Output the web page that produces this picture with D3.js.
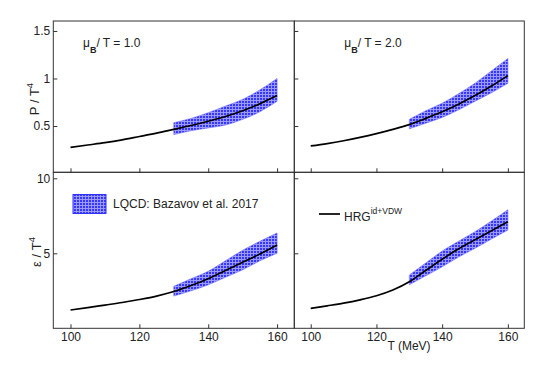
<!DOCTYPE html>
<html lang="en">
<head>
<meta charset="UTF-8">
<title>HRG vs LQCD</title>
<script src="https://d3js.org/d3.v7.min.js"></script>
<style>
  body { margin: 0; background: #fff; }
  svg text { font-family: "Liberation Sans", Arial, sans-serif; fill: #222; }
</style>
</head>
<body>
<div id="chart"></div>
<script>
// temperature grid of the HRG curves (MeV)
var temps = [100, 105, 110, 115, 120, 125, 130, 135, 140, 145, 150, 155, 160];
// HRG id+VDW, P/T^4
var pMu1 = [0.275, 0.30, 0.325, 0.355, 0.39, 0.425, 0.465, 0.505, 0.55, 0.60, 0.66, 0.735, 0.82];
var pMu2 = [0.29, 0.315, 0.345, 0.38, 0.42, 0.465, 0.515, 0.58, 0.65, 0.73, 0.82, 0.92, 1.03];
// HRG id+VDW, eps/T^4
var eMu1 = [1.22, 1.38, 1.55, 1.72, 1.92, 2.15, 2.45, 2.85, 3.3, 3.85, 4.4, 4.95, 5.55];
var eMu2 = [1.33, 1.5, 1.68, 1.9, 2.17, 2.55, 3.1, 3.85, 4.6, 5.3, 5.9, 6.5, 7.1];

// LQCD band (Bazavov et al. 2017)
var lqcdT = [130, 135, 140, 145, 150, 155, 160];
var pMu1Lo = [0.41, 0.45, 0.48, 0.51, 0.57, 0.65, 0.76];
var pMu1Hi = [0.535, 0.58, 0.64, 0.71, 0.78, 0.88, 1.0];
var pMu2Lo = [0.47, 0.53, 0.59, 0.67, 0.76, 0.85, 0.95];
var pMu2Hi = [0.57, 0.66, 0.74, 0.84, 0.95, 1.08, 1.21];
var eMu1Lo = [2.15, 2.5, 2.9, 3.4, 3.9, 4.5, 5.0];
var eMu1Hi = [2.8, 3.3, 3.8, 4.5, 5.2, 5.8, 6.35];
var eMu2Lo = [2.9, 3.5, 4.1, 4.75, 5.33, 5.95, 6.55];
var eMu2Hi = [3.55, 4.35, 5.15, 5.8, 6.44, 7.15, 7.9];

var xTicks = [100, 120, 140, 160];
var pTicks = [0.5, 1, 1.5];
var eTicks = [5, 10];
var muLabels = ["1.0", "2.0"];

var svg = d3.select("#chart").append("svg")
    .attr("width", 536)
    .attr("height", 369);

// hatch pattern for the lattice band
var pat = svg.append("defs").append("pattern")
    .attr("id", "hatch")
    .attr("patternUnits", "userSpaceOnUse")
    .attr("width", 3).attr("height", 3);
pat.append("rect").attr("width", 3).attr("height", 3).attr("fill", "#3636ff");
pat.append("rect").attr("x", 1).attr("width", 1).attr("height", 3).attr("fill", "#9b9bff");
pat.append("rect").attr("y", 1).attr("width", 3).attr("height", 1).attr("fill", "#9b9bff");

var cols = [{x0: 53.3, x1: 294.3}, {x0: 294.3, x1: 524.3}];
var rows = [
    {y0: 21, y1: 172.3, dom: [0.013, 1.605], ticks: pTicks,
     curves: [pMu1, pMu2], lo: [pMu1Lo, pMu2Lo], hi: [pMu1Hi, pMu2Hi]},
    {y0: 172.3, y1: 328.3, dom: [0, 10.4], ticks: eTicks,
     curves: [eMu1, eMu2], lo: [eMu1Lo, eMu2Lo], hi: [eMu1Hi, eMu2Hi]}
];

rows.forEach(function(row, r) {
    cols.forEach(function(col, c) {
        var x = d3.scaleLinear().domain([95, 165]).range([col.x0, col.x1]);
        var y = d3.scaleLinear().domain(row.dom).range([row.y1, row.y0]);
        var g = svg.append("g");

        // band
        var area = d3.area()
            .x(function(d, i) { return x(lqcdT[i]); })
            .y0(function(d, i) { return y(row.lo[c][i]); })
            .y1(function(d, i) { return y(row.hi[c][i]); })
            .curve(d3.curveMonotoneX);
        g.append("path")
            .datum(lqcdT)
            .attr("d", area)
            .attr("fill", "url(#hatch)")
            .attr("stroke", "#6a6aff")
            .attr("stroke-width", 0.6);

        // HRG curve
        var line = d3.line()
            .x(function(d, i) { return x(temps[i]); })
            .y(function(d) { return y(d); })
            .curve(d3.curveMonotoneX);
        g.append("path")
            .datum(row.curves[c])
            .attr("d", line)
            .attr("fill", "none")
            .attr("stroke", "#000")
            .attr("stroke-width", 1.7);

        // axes (ticks inside)
        var yAxis = d3.axisLeft(y).tickValues(row.ticks).tickSize(-4).tickPadding(3)
            .tickFormat(c === 0 ? d3.format("") : function() { return ""; });
        var xAxis = d3.axisBottom(x).tickValues(xTicks).tickSize(-4).tickPadding(4.4)
            .tickFormat(r === 1 ? d3.format("") : function() { return ""; });

        var ya = g.append("g").attr("transform", "translate(" + col.x0 + ",0)").call(yAxis);
        var xa = g.append("g").attr("transform", "translate(0," + row.y1 + ")").call(xAxis);
        [ya, xa].forEach(function(a) {
            a.select(".domain").remove();
            a.selectAll("line").attr("stroke", "#333");
            a.selectAll("text").attr("font-size", 12).attr("fill", "#222")
                .style("font-family", "'Liberation Sans', Arial, sans-serif");
        });

        // frame
        g.append("rect")
            .attr("x", col.x0).attr("y", row.y0)
            .attr("width", col.x1 - col.x0).attr("height", row.y1 - row.y0)
            .attr("fill", "none")
            .attr("stroke", "#333")
            .attr("stroke-width", 1);
    });
});

// mu_B/T labels
[83, 344.3].forEach(function(tx, i) {
    var t = svg.append("text").attr("x", tx).attr("y", 47).attr("font-size", 12);
    t.append("tspan").text("\u03bc");
    t.append("tspan").attr("dy", 6).attr("font-size", 9).attr("font-weight", "bold").text("B");
    t.append("tspan").attr("dy", -6).text("/ T = " + muLabels[i]);
});

// y axis titles
var pt = svg.append("text").attr("transform", "translate(39,99) rotate(-90)")
    .attr("text-anchor", "middle").attr("font-size", 13);
pt.append("tspan").text("P / T");
pt.append("tspan").attr("dy", -6).attr("font-size", 9.5).text("4");

var et = svg.append("text").attr("transform", "translate(41,252) rotate(-90)")
    .attr("text-anchor", "middle").attr("font-size", 13);
et.append("tspan").text("\u03b5 / T");
et.append("tspan").attr("dy", -6).attr("font-size", 9.5).text("4");

// x axis title
svg.append("text").attr("x", 409).attr("y", 350).attr("text-anchor", "middle")
    .attr("font-size", 12).text("T (MeV)");

// legend: LQCD
svg.append("rect").attr("x", 73).attr("y", 194.5).attr("width", 33).attr("height", 19)
    .attr("fill", "url(#hatch)").attr("stroke", "#3030ff").attr("stroke-width", 1);
svg.append("text").attr("x", 113).attr("y", 208).attr("font-size", 12)
    .text("LQCD: Bazavov et al. 2017");

// legend: HRG
svg.append("line").attr("x1", 319).attr("x2", 340).attr("y1", 214).attr("y2", 214)
    .attr("stroke", "#000").attr("stroke-width", 1.7);
var ht = svg.append("text").attr("x", 344).attr("y", 220.5).attr("font-size", 12);
ht.append("tspan").text("HRG");
ht.append("tspan").attr("dy", -7).attr("font-size", 8.5).text("id+VDW");
</script>
</body>
</html>
